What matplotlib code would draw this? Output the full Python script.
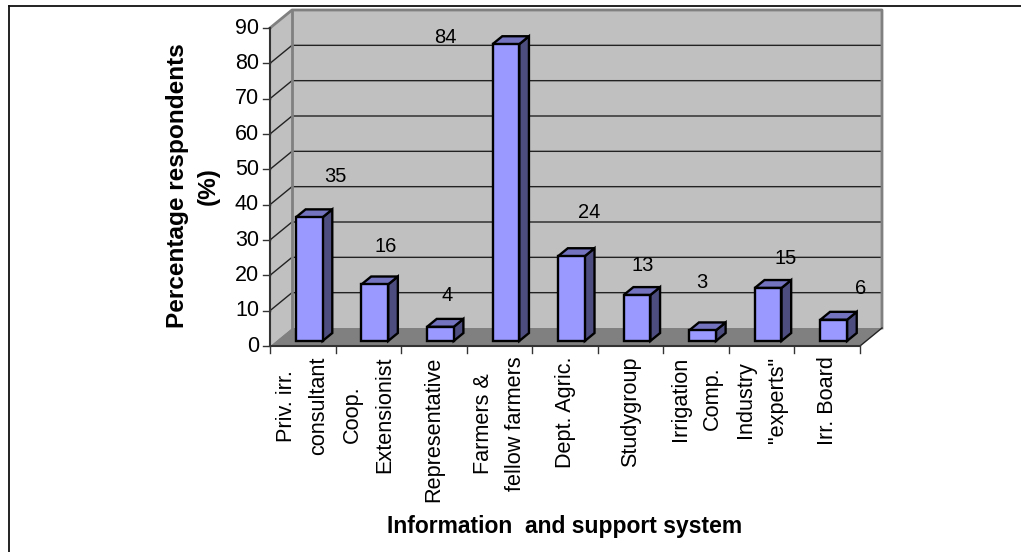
import matplotlib
matplotlib.use("Agg")
import matplotlib.pyplot as plt
from matplotlib.patches import Polygon

categories = ["Priv. irr.\nconsultant", "Coop.\nExtensionist", "Representative",
              "Farmers &\nfellow farmers", "Dept. Agric.", "Studygroup",
              "Irrigation\nComp.", "Industry\n\"experts\"", "Irr. Board"]
values = [35, 16, 4, 84, 24, 13, 3, 15, 6]
y_ticks = list(range(0, 100, 10))

# value label offsets from the bar top, in points
label_dx = [12, 1, -2, -50.5, 6, -3, -7, 6, 12.5]
label_dy = [17, 15, 10, -8, 19, 9, 22, 9, 10]

W, H = 1021, 552
plt.rcParams["font.family"] = ["Liberation Sans", "DejaVu Sans"]
fig = plt.figure(figsize=(W / 100, H / 100), dpi=100)

# axes is the front plane of the 3D box
left, right, bottom, top = 270, 860, 346, 28
ax = fig.add_axes([left / W, 1 - bottom / H, (right - left) / W, (bottom - top) / H])
ax.set_xlim(0, len(values))
ax.set_ylim(0, 90)
ax.axis("off")

# outer frame: top edge and left edge only reach the page border here
fig.add_artist(plt.Line2D([8.5 / W, 8.5 / W], [0, 1 - 5.5 / H], color="#111111", lw=1.3))
fig.add_artist(plt.Line2D([8.5 / W, 1], [1 - 5.5 / H, 1 - 5.5 / H], color="#111111", lw=1.3))

n = len(values)
px_x = (right - left) / n
px_y = (bottom - top) / 90
depth_x = 22 / px_x
depth_y = 18 / px_y


def project(x, y, d):
    return (x + d * depth_x, y + d * depth_y)


# walls and floor
ax.add_patch(Polygon([project(0, 0, 0), project(0, 90, 0), project(0, 90, 1), project(0, 0, 1)],
                     facecolor="#c0c0c0", edgecolor="none", clip_on=False, zorder=1))
ax.add_patch(Polygon([project(0, 0, 1), project(0, 90, 1), project(n, 90, 1), project(n, 0, 1)],
                     facecolor="#c0c0c0", edgecolor="none", clip_on=False, zorder=1))
ax.add_patch(Polygon([project(0, 0, 0), project(n, 0, 0), project(n, 0, 1), project(0, 0, 1)],
                     facecolor="#808080", edgecolor="none", clip_on=False, zorder=1))

# gridlines run across the back wall and down the side wall
for v in y_ticks[1:-1]:
    a, b, c = project(0, v, 0), project(0, v, 1), project(n, v, 1)
    ax.plot([a[0], b[0], c[0]], [a[1], b[1], c[1]], color="#222222", lw=1.0,
            clip_on=False, zorder=2)

# wall outlines
gray = "#808080"
outline = [project(0, 90, 0), project(0, 90, 1), project(n, 90, 1), project(n, 0, 1)]
ax.plot(*zip(*outline), color=gray, lw=2.0, clip_on=False, zorder=2)
ax.plot(*zip(project(0, 0, 1), project(0, 90, 1)), color=gray, lw=2.0, clip_on=False, zorder=2)
ax.plot(*zip(project(n, 0, 0), project(n, 0, 1)), color="#222222", lw=1.0, clip_on=False, zorder=2)

# front axis lines and ticks
ax.plot([0, 0], [0, 90], color="#333333", lw=1.5, clip_on=False, zorder=3)
ax.plot([0, n], [0, 0], color="#333333", lw=1.5, clip_on=False, zorder=3)
for v in y_ticks:
    ax.plot([-7 / px_x, 0], [v, v], color="#333333", lw=1.0, clip_on=False, zorder=3)
    ax.annotate(str(v), (0, v), xytext=(-8, 0), textcoords="offset points", ha="right",
                va="center", fontsize=15.5, annotation_clip=False)
for i in range(n + 1):
    ax.plot([i, i], [0, -7 / px_y], color="#333333", lw=1.0, clip_on=False, zorder=3)

# bars drawn as three faces each
bar_w = 0.407
d0, d1 = 0.28, 0.72
for i, v in enumerate(values):
    x0 = i + 0.5 - bar_w / 2 + 0.005
    x1 = x0 + bar_w
    front = [project(x0, 0, d0), project(x1, 0, d0), project(x1, v, d0), project(x0, v, d0)]
    side = [project(x1, 0, d0), project(x1, 0, d1), project(x1, v, d1), project(x1, v, d0)]
    roof = [project(x0, v, d0), project(x1, v, d0), project(x1, v, d1), project(x0, v, d1)]
    for pts, col in ((side, "#4d4d80"), (roof, "#7373bf"), (front, "#9999ff")):
        ax.add_patch(Polygon(pts, facecolor=col, edgecolor="black", linewidth=1.7,
                             joinstyle="miter", clip_on=False, zorder=4))
    ax.annotate(str(v), project(i + 0.5, v, d1), xytext=(label_dx[i], label_dy[i]),
                textcoords="offset points", ha="center", va="bottom", fontsize=14.5,
                annotation_clip=False, zorder=5)

# category labels, rotated and hung under the axis
for i, name in enumerate(categories):
    ax.annotate(name, (i + 0.5, 0), xytext=(0, -7.5), textcoords="offset points", rotation=90,
                ha="center", va="top", fontsize=15.6, linespacing=1.7,
                multialignment="center", annotation_clip=False)

fig.text(565 / W, 1 - 527 / H, "Information  and support system", ha="center", va="center",
         fontsize=16.5, fontweight="bold")
fig.text(193 / W, 1 - 186 / H, "Percentage respondents\n(%)", ha="center", va="center",
         rotation=90, fontsize=17.6, fontweight="bold", multialignment="center", linespacing=1.4)

fig.savefig("out.png", dpi=100)
